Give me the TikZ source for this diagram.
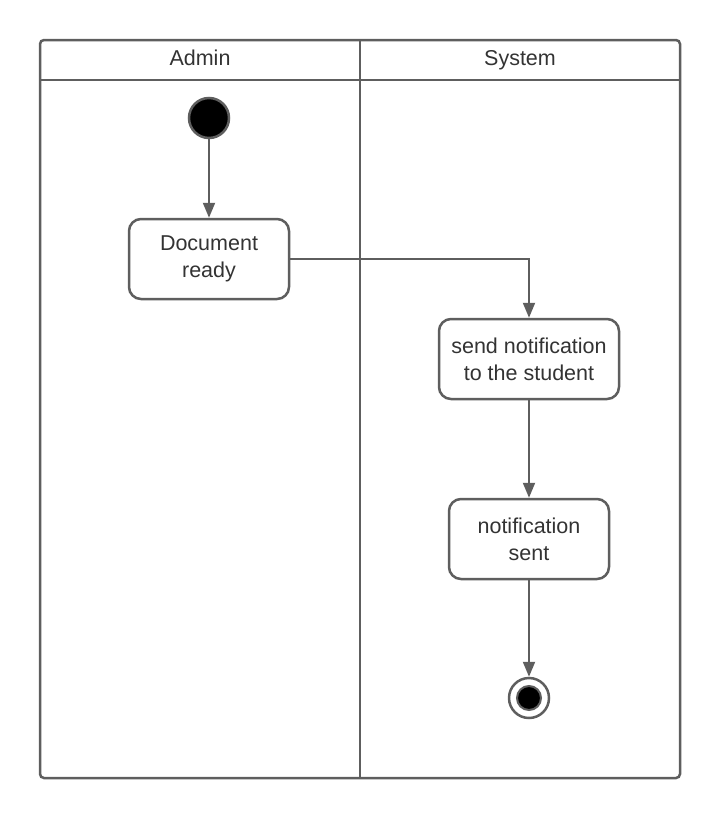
\documentclass[tikz,border=0pt]{standalone}
\usepackage{fontspec}
\setmainfont{Liberation Sans}
\usetikzlibrary{arrows.meta}
\definecolor{ln}{HTML}{5E5E5E}
\definecolor{tx}{HTML}{333333}
\tikzset{
  lane/.style={draw=ln, line width=2.5pt},
  actbox/.style={draw=ln, line width=2.5pt, rounded corners=12pt, fill=white, align=center,
    font=\fontsize{21.5}{27}\selectfont, text=tx, inner sep=0pt},
  conn/.style={draw=ln, line width=2pt, -{Triangle[length=15pt,width=12pt]}},
  hdr/.style={font=\fontsize{21.5}{24}\selectfont, text=tx, anchor=base},
}
\begin{document}
\begin{tikzpicture}[x=1pt,y=-1pt]
\useasboundingbox (0,0) rectangle (720,819);
% swimlane frame
\draw[lane, rounded corners=4pt] (40,40) rectangle (680,778);
\draw[lane] (40,80) -- (680,80);
\draw[lane] (360,40) -- (360,778);
\node[hdr] (hadmin) at (200,65) {Admin};
\node[hdr] (hsys) at (520,65) {System};
% nodes
\node[circle, draw=ln, line width=2.5pt, fill=black, minimum size=40pt, inner sep=0pt] (start) at (209,118) {};
\node[actbox, minimum width=160pt, minimum height=80pt] (docready) at (209,259) {Document\\ready};
\node[actbox, minimum width=180pt, minimum height=80pt] (send) at (529,359) {send notification\\to the student};
\node[actbox, minimum width=160pt, minimum height=80pt] (sent) at (529,539) {notification\\sent};
\node[circle, draw=ln, line width=2.5pt, fill=white, minimum size=40pt, inner sep=0pt] (endo) at (529,698) {};
\node[circle, draw=ln, line width=2pt, fill=black, minimum size=24pt, inner sep=0pt] (endi) at (529,698) {};
% connectors
\draw[conn] (start) -- (docready);
\draw[conn] (docready.east) -| (send.north);
\draw[conn] (send) -- (sent);
\draw[conn] (sent) -- (endo);
\end{tikzpicture}
\end{document}
